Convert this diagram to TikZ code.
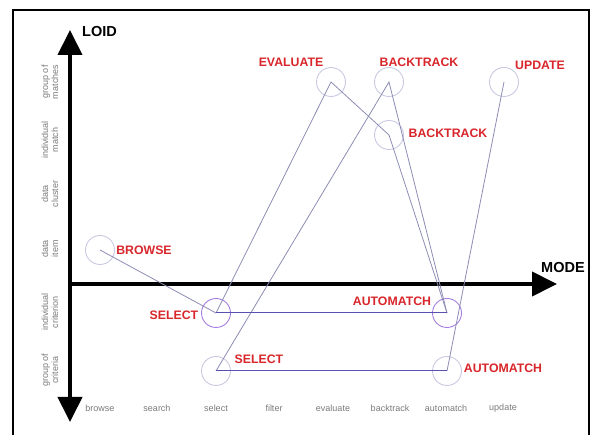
\documentclass[tikz,border=0pt]{standalone}
\usepackage{fontspec}
\setmainfont{Liberation Sans}
\usetikzlibrary{arrows.meta}
\definecolor{lbl}{HTML}{D8262B}
\definecolor{tick}{HTML}{7A7A7A}
\definecolor{conn}{HTML}{8C8CB4}
\definecolor{hconn}{HTML}{5A50B0}
\definecolor{circlight}{HTML}{C9C9E2}
\definecolor{circdark}{HTML}{A47FE0}
\tikzset{
  circ/.style={circle,draw=circlight,line width=0.9pt,minimum size=29pt,inner sep=0pt},
  circd/.style={circ,draw=circdark},
  lab/.style={text=lbl,font=\fontsize{12.3}{14}\selectfont\bfseries,inner sep=0pt},
  axlab/.style={font=\fontsize{14.5}{16}\selectfont\bfseries,inner sep=0pt},
  xt/.style={text=tick,font=\fontsize{9}{10}\selectfont,inner sep=0pt},
  yt/.style={text=tick,font=\fontsize{9}{10}\selectfont,rotate=90,align=center,inner sep=0pt},
  conline/.style={draw=conn,line width=0.8pt},
  hline/.style={draw=hconn,line width=1pt},
  axis/.style={line width=4pt,-{Triangle[length=25pt,width=24pt]}},
}
\begin{document}
\begin{tikzpicture}[x=1pt,y=-1pt]
\useasboundingbox (0,0) rectangle (592,435);
% frame
\draw[line width=2pt] (13,435) -- (13,10) -- (589,10) -- (589,435);
% axes
\coordinate (o) at (70,284);
\coordinate (top) at (70,30);
\coordinate (bot) at (70,422);
\coordinate (right) at (557,284);
\draw[axis] (o) -- (top);
\draw[axis] (o) -- (bot);
\draw[axis] (o) -- (right);
\node[axlab,anchor=west] (loid) at (82,32) {LOID};
\node[axlab,anchor=west] (mode) at (541,268) {MODE};
% y labels
\node[yt] (y1) at (50,82) {group of\\matches};
\node[yt] (y2) at (50,140) {individual\\match};
\node[yt] (y3) at (50,194) {data\\cluster};
\node[yt] (y4) at (50,249) {data\\item};
\node[yt] (y5) at (50,312) {individual\\criterion};
\node[yt] (y6) at (50,370) {group of\\criteria};
% x labels
\node[xt] (x1) at (100,408) {browse};
\node[xt] (x2) at (157,408) {search};
\node[xt] (x3) at (216,408) {select};
\node[xt] (x4) at (274,408) {filter};
\node[xt] (x5) at (333,408) {evaluate};
\node[xt] (x6) at (390,408) {backtrack};
\node[xt] (x7) at (446,408) {automatch};
\node[xt] (x8) at (503,408) {update};
% circles
\node[circ] (br) at (100,250) {};
\node[circd] (sic) at (216,313) {};
\node[circ] (sgc) at (216,371) {};
\node[circ] (ev) at (331,82) {};
\node[circ] (bt1) at (389,82) {};
\node[circ] (bt2) at (389,135) {};
\node[circ] (up) at (504,82) {};
\node[circd] (aic) at (447,313) {};
\node[circ] (agc) at (447,371) {};
% connectors
\draw[conline] (br.center) -- (sic.center);
\draw[conline] (sic.center) -- (ev.center) -- (bt2.center) -- (aic.center);
\draw[conline] (sgc.center) -- (bt1.center) -- (aic.center);
\draw[conline] (agc.center) -- (up.center);
\draw[hline] (sic.center) -- (aic.center);
\draw[hline] (sgc.center) -- (agc.center);
% labels
\node[lab] (lev) at (291,62) {EVALUATE};
\node[lab] (lbt1) at (419,62) {BACKTRACK};
\node[lab] (lup) at (540,65) {UPDATE};
\node[lab] (lbt2) at (448,133) {BACKTRACK};
\node[lab] (lbr) at (144,250) {BROWSE};
\node[lab] (lsic) at (174,315) {SELECT};
\node[lab] (lsgc) at (259,359) {SELECT};
\node[lab] (laic) at (392,301) {AUTOMATCH};
\node[lab] (lagc) at (503,368) {AUTOMATCH};
\end{tikzpicture}
\end{document}
